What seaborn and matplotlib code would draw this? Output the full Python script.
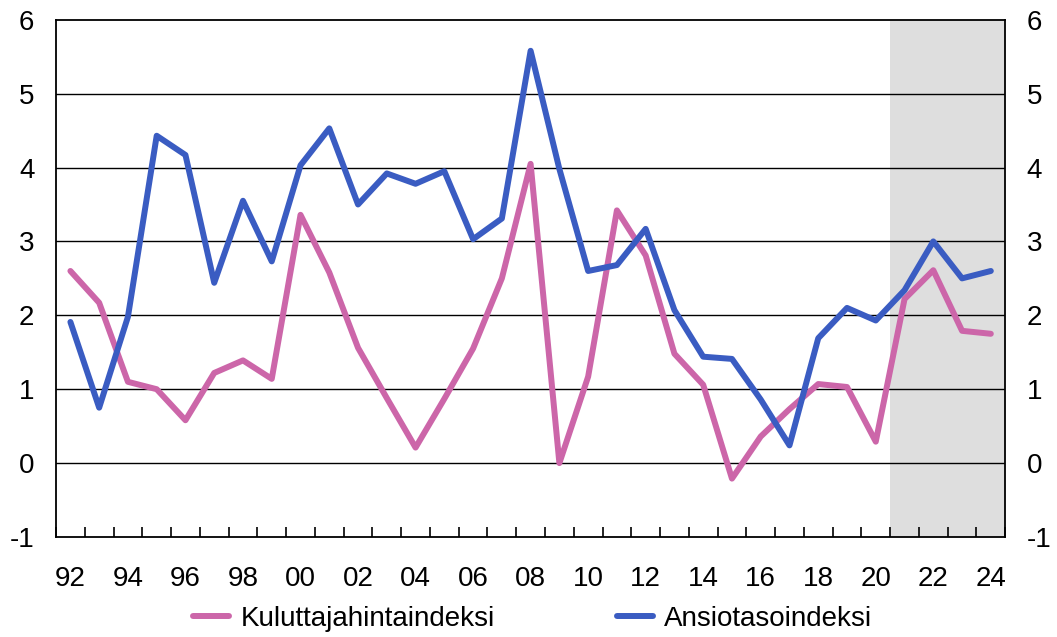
import pandas as pd
import seaborn as sns
import matplotlib.pyplot as plt
from matplotlib.ticker import MultipleLocator

# Data (annual % change)
years = list(range(1992, 2025))
kuluttajahinta = [2.60, 2.17, 1.10, 1.00, 0.58, 1.22, 1.39, 1.14, 3.36, 2.58,
                  1.56, 0.88, 0.21, 0.87, 1.55, 2.50, 4.05, 0.00, 1.17, 3.42,
                  2.81, 1.48, 1.06, -0.21, 0.36, 0.73, 1.07, 1.03, 0.29, 2.22,
                  2.61, 1.79, 1.75]
ansiotaso = [1.91, 0.75, 1.98, 4.43, 4.17, 2.44, 3.55, 2.73, 4.03, 4.53,
             3.50, 3.92, 3.78, 3.95, 3.03, 3.31, 5.58, 3.98, 2.60, 2.68,
             3.17, 2.07, 1.44, 1.41, 0.86, 0.24, 1.69, 2.10, 1.93, 2.34,
             3.00, 2.50, 2.60]
series_names = ["Kuluttajahintaindeksi", "Ansiotasoindeksi"]
forecast_start = 2021
year_labels = [f"{y % 100:02d}" for y in years[::2]]

df = pd.DataFrame({"vuosi": years,
                   series_names[0]: kuluttajahinta,
                   series_names[1]: ansiotaso})
df_long = df.melt(id_vars="vuosi", var_name="sarja", value_name="muutos")

sns.set_style("white")
plt.rcParams['font.family'] = ['Liberation Sans', 'DejaVu Sans']
plt.rcParams['axes.unicode_minus'] = False
plt.rcParams['text.color'] = 'black'
plt.rcParams['xtick.labelcolor'] = 'black'
plt.rcParams['ytick.labelcolor'] = 'black'

fig = plt.figure(figsize=(10.57, 6.37), dpi=100)
ax = fig.add_axes([0.053, 0.157, 0.898, 0.812])

# Forecast shading
ax.axvspan(forecast_start - 0.5, years[-1] + 0.5, color="#dedede", zorder=0, lw=0)

# Horizontal gridlines
for v in range(0, 6):
    ax.axhline(v, color="black", lw=1, zorder=1)

palette = {series_names[0]: "#cc66a9", series_names[1]: "#3a5cc2"}
sns.lineplot(data=df_long, x="vuosi", y="muutos", hue="sarja", palette=palette,
             lw=4.3, ax=ax, zorder=3)

ax.set_xlim(years[0] - 0.5, years[-1] + 0.5)
ax.set_ylim(-1, 6)
ax.set_xlabel("")
ax.set_ylabel("")

ax.set_xticks(years[::2])
ax.set_xticklabels(year_labels)
ax.xaxis.set_minor_locator(MultipleLocator(1, offset=0.5))
ax.tick_params(axis="x", which="major", length=0, pad=21, labelsize=20,
               labelcolor="black")
ax.tick_params(axis="x", which="minor", direction="in", length=7, width=1.2,
               color="black", bottom=True)
ax.yaxis.set_major_locator(MultipleLocator(1))
ax.tick_params(axis="y", which="both", left=False, right=False,
               labelleft=True, labelright=True, labelsize=20, pad=12,
               labelcolor="black")

for s in ax.spines.values():
    s.set_color("black")
    s.set_linewidth(1.3)
    s.set_visible(True)

handles, labels = ax.get_legend_handles_labels()
ax.get_legend().remove()
leg = fig.legend(handles, labels, loc="center", bbox_to_anchor=(0.504, 0.028), ncol=2,
                 frameon=False, fontsize=20, handlelength=1.3, handletextpad=0.4,
                 columnspacing=4.4)
for t in leg.get_texts():
    t.set_color("black")

fig.savefig("out.png", dpi=100)
